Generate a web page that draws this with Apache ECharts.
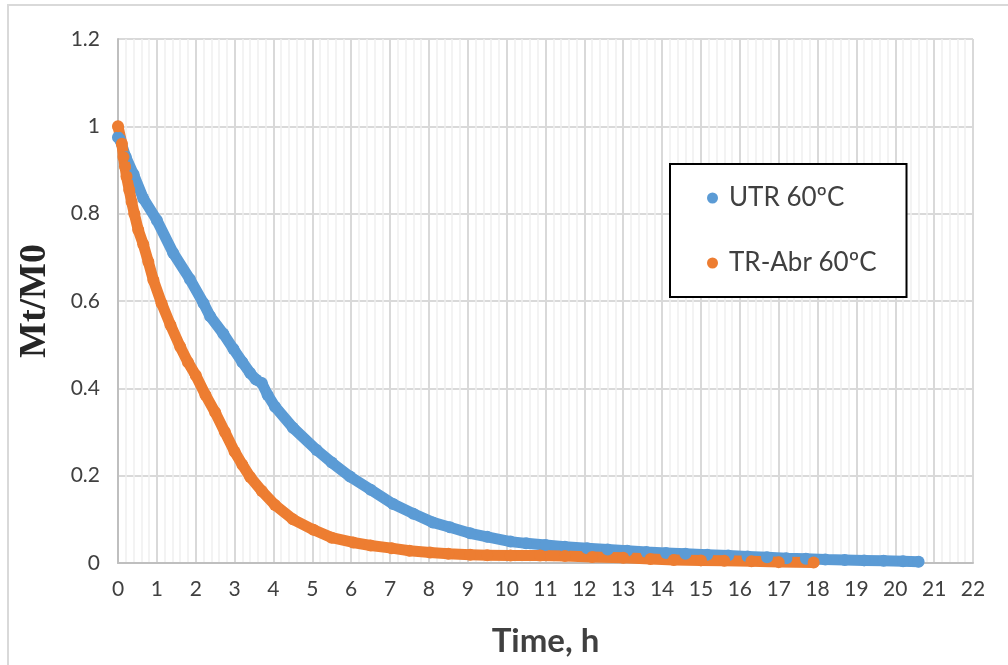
<!DOCTYPE html>
<html>
<head>
<meta charset="utf-8">
<title>Mt/M0 vs time</title>
<script src="https://cdn.jsdelivr.net/npm/echarts@6/dist/echarts.min.js"></script>
<style>
  html, body { margin: 0; padding: 0; background: #fff; }
  #chart { width: 1008px; height: 665px; }
</style>
</head>
<body>
<div id="chart"></div>
<script>
// Values
const utrTime = [0, 0.05, 0.2, 0.4, 0.65, 1.0, 1.42, 1.85, 2.2, 2.37, 2.71, 2.97, 3.2, 3.4, 3.55, 3.7, 3.85, 4.04, 4.5, 5.11, 5.5, 5.97, 6.5, 7.08, 7.6, 8.1, 8.54, 9.06, 9.5, 10.1, 10.5, 11.0, 11.5, 12.07, 12.6, 13.1, 13.6, 14.1, 14.6, 15.16, 15.7, 16.2, 16.7, 17.2, 17.7, 18.2, 18.7, 19.2, 19.7, 20.2, 20.6];
const utrValue = [0.975, 0.97, 0.93, 0.89, 0.835, 0.785, 0.71, 0.65, 0.595, 0.565, 0.525, 0.49, 0.46, 0.435, 0.42, 0.412, 0.385, 0.358, 0.31, 0.259, 0.23, 0.198, 0.168, 0.135, 0.113, 0.093, 0.082, 0.068, 0.06, 0.049, 0.045, 0.041, 0.037, 0.034, 0.031, 0.028, 0.025, 0.023, 0.021, 0.019, 0.017, 0.015, 0.013, 0.011, 0.010, 0.008, 0.007, 0.006, 0.005, 0.004, 0.003];

const trAbrTime = [0, 0.1, 0.14, 0.18, 0.22, 0.29, 0.35, 0.42, 0.52, 0.65, 0.78, 0.91, 1.12, 1.35, 1.6, 1.8, 2.0, 2.25, 2.5, 2.75, 3.0, 3.2, 3.4, 3.7, 4.04, 4.5, 5.03, 5.5, 6.05, 6.5, 7.04, 7.5, 8.03, 8.5, 9.06, 9.5, 10.1, 10.86, 11.5, 12.2, 13.0, 13.7, 14.3, 15.0, 15.6, 16.3, 17.0, 17.9];
const trAbrValue = [1.0, 0.96, 0.93, 0.908, 0.885, 0.854, 0.827, 0.80, 0.763, 0.73, 0.69, 0.648, 0.595, 0.545, 0.495, 0.46, 0.43, 0.385, 0.345, 0.30, 0.255, 0.225, 0.197, 0.165, 0.133, 0.10, 0.076, 0.058, 0.047, 0.04, 0.034, 0.028, 0.024, 0.021, 0.019, 0.018, 0.017, 0.017, 0.016, 0.014, 0.012, 0.009, 0.007, 0.006, 0.005, 0.004, 0.002, 0.001];

const seriesNames = ['UTR 60ºC', 'TR-Abr 60ºC'];
const seriesColors = ['#5b9bd5', '#ed7d31'];

const toPairs = (xs, ys) => xs.map((x, i) => [x, ys[i]]);

const chart = echarts.init(document.getElementById('chart'));

// dense dots are drawn as a thick band with round joins plus the read points
const makeSeries = (name, color, data) => ({
    name: name,
    type: 'line',
    data: data,
    symbol: 'circle',
    symbolSize: 12,
    showSymbol: true,
    itemStyle: { color: color },
    lineStyle: { color: color, width: 11, cap: 'round', join: 'round' },
    emphasis: { disabled: true }
});

chart.setOption({
    animation: false,
    textStyle: { fontFamily: 'Lato' },
    graphic: [{
        type: 'rect',
        shape: { x: 8, y: 5, width: 1020, height: 690 },
        style: { fill: 'none', stroke: '#d9d9d9', lineWidth: 2 },
        silent: true
    }],
    grid: { left: 118, right: 35, top: 39, bottom: 102 },
    legend: {
        orient: 'vertical',
        left: 670,
        top: 164,
        padding: [21, 30, 21, 37],
        itemGap: 39,
        itemWidth: 11,
        itemHeight: 11,
        icon: 'circle',
        borderColor: '#000',
        borderWidth: 2,
        backgroundColor: '#fff',
        textStyle: { fontFamily: 'Lato', fontSize: 26, lineHeight: 26, color: '#404040', padding: [0, 0, 0, 6] },
        data: seriesNames
    },
    xAxis: {
        type: 'value',
        min: 0,
        max: 22,
        interval: 1,
        name: 'Time, h',
        nameLocation: 'middle',
        nameGap: 62,
        nameTextStyle: { fontFamily: 'Lato', fontSize: 33, fontWeight: 'bold', color: '#404040' },
        axisLine: { show: true, lineStyle: { color: '#bfbfbf', width: 2 } },
        axisTick: { show: false },
        axisLabel: { fontFamily: 'Lato', fontSize: 21, color: '#404040', margin: 16 },
        splitLine: { show: true, lineStyle: { color: '#d9d9d9', width: 2 } },
        minorTick: { show: false, splitNumber: 5 },
        minorSplitLine: { show: true, lineStyle: { color: '#efefef', width: 1.5 } }
    },
    yAxis: {
        type: 'value',
        min: 0,
        max: 1.2,
        interval: 0.2,
        name: 'Mt/M0',
        nameLocation: 'middle',
        nameGap: 64,
        nameTextStyle: { fontFamily: 'Liberation Serif', fontSize: 38, fontWeight: 'bold', color: '#262626' },
        axisLine: { show: true, lineStyle: { color: '#bfbfbf', width: 2 } },
        axisTick: { show: false },
        axisLabel: { fontFamily: 'Lato', fontSize: 21, color: '#404040', margin: 18 },
        splitLine: { show: true, lineStyle: { color: '#d9d9d9', width: 2 } }
    },
    series: [
        makeSeries(seriesNames[0], seriesColors[0], toPairs(utrTime, utrValue)),
        makeSeries(seriesNames[1], seriesColors[1], toPairs(trAbrTime, trAbrValue))
    ]
});
</script>
</body>
</html>
